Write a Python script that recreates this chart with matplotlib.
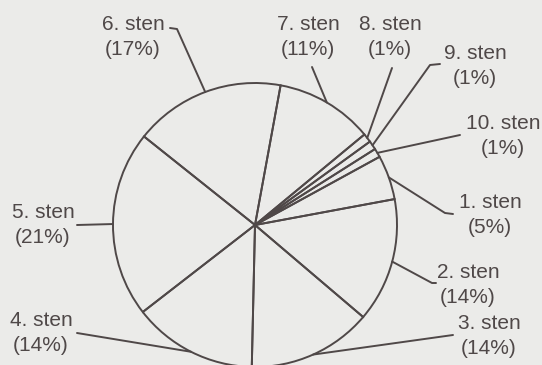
import numpy as np
import matplotlib
matplotlib.use("Agg")
import matplotlib.pyplot as plt

labels = ["1. sten", "2. sten", "3. sten", "4. sten", "5. sten",
          "6. sten", "7. sten", "8. sten", "9. sten", "10. sten"]
shares = [5, 14, 14, 14, 21, 17, 11, 1, 1, 1]

W, H = 542, 365
bg = "#ebebe9"
ink = "#4f4848"

# label layout in pixel coords (x centre, y centre of the two lines)
text_pos = [(490, 215), (468, 285), (489, 336), (41, 333), (43, 225),
            (133, 37), (308, 37), (390, 37), (475, 66), (503, 136)]
# leader path: knee point, end point (pixels)
knees = [(445, 213), (432, 283), (453, 335), (77, 333), (77, 225),
         (177, 29), (312, 67), (392, 68), (430, 65), (460, 135)]
ends = [(453, 214), (436, 283), (453, 335), (77, 333), (77, 225),
        (170, 28), (312, 67), (392, 68), (440, 64), (460, 135)]

fig = plt.figure(figsize=(W / 100, H / 100), dpi=100, facecolor=bg)
ax = fig.add_axes([0, 0, 1, 1])
ax.set_facecolor(bg)

cx, cy, r = 255, H - 225, 142
wedges, _ = ax.pie(shares, startangle=28.7, counterclock=False,
                   center=(cx, cy), radius=r,
                   wedgeprops=dict(facecolor="none", edgecolor=ink, linewidth=1.4))

for i, w in enumerate(wedges):
    mid = np.deg2rad((w.theta1 + w.theta2) / 2)
    x0 = cx + r * np.cos(mid)
    y0 = cy + r * np.sin(mid)
    kx, ky = knees[i]
    ex, ey = ends[i]
    ax.plot([x0, kx, ex], [y0, H - ky, H - ey], color=ink, lw=1.4,
            solid_capstyle="round")
    tx, ty = text_pos[i]
    ax.text(tx, H - ty, "%s\n(%d%%)" % (labels[i], shares[i]),
            ha="center", va="center", multialignment="center",
            fontsize=15, color=ink, family="Liberation Sans", linespacing=1.38)

ax.set_xlim(0, W)
ax.set_ylim(0, H)
ax.set_aspect("equal")
ax.axis("off")
fig.savefig("out.png", dpi=100, facecolor=bg)
